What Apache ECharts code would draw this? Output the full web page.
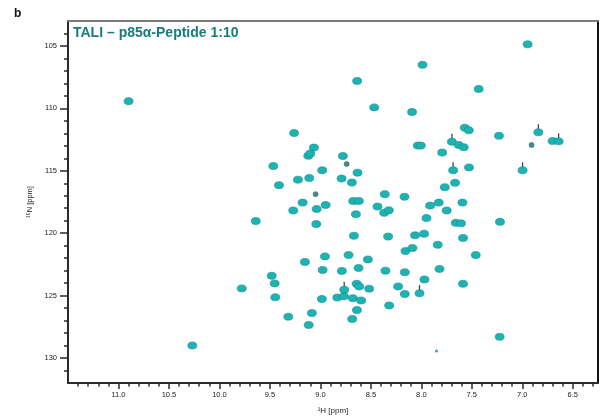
<!DOCTYPE html>
<html>
<head>
<meta charset="utf-8">
<script src="https://cdn.jsdelivr.net/npm/echarts@6/dist/echarts.min.js"></script>
<style>html,body{margin:0;padding:0;background:#fff;}#c{width:601px;height:420px;}</style>
</head>
<body>
<div id="c"></div>
<script>
// 1H chemical shift (ppm) of each cross peak
var peakH = [10.90, 9.26, 9.064, 9.12, 9.10, 9.466, 8.982, 9.222, 9.110, 9.410,
  9.176, 8.948, 9.269, 9.037, 9.640, 9.041, 8.955, 9.153, 8.978, 9.482,
  9.453, 9.779, 9.447, 8.985, 9.084, 9.318, 9.116, 10.268, 6.947, 7.988,
  8.636, 7.432, 8.467, 8.092, 7.57, 7.53, 7.697, 7.630, 7.580, 7.231,
  6.841, 6.70, 6.64, 8.035, 8.005, 7.794, 8.777, 8.632, 7.685, 7.528,
  6.997, 8.790, 8.688, 7.666, 7.768, 8.362, 8.167, 8.675, 8.619, 8.434,
  8.368, 8.322, 8.648, 7.913, 7.828, 7.593, 7.749, 7.949, 7.659, 7.607,
  7.221, 8.668, 8.329, 8.062, 7.973, 7.587, 7.838, 8.157, 8.088, 7.461,
  8.721, 8.530, 8.787, 8.622, 8.355, 8.164, 7.820, 7.969, 7.587, 8.641,
  8.616, 8.764, 8.517, 8.230, 8.164, 8.018, 8.833, 8.767, 8.678, 8.596,
  8.319, 8.638, 8.685, 7.224];
// 15N chemical shift (ppm) of each cross peak
var peakN = [109.42, 111.98, 113.14, 113.80, 113.62, 114.62, 114.96, 115.71, 115.58, 116.15,
  117.55, 117.74, 118.18, 118.06, 119.03, 119.27, 121.86, 122.30, 122.94, 123.41,
  124.02, 124.42, 125.13, 125.27, 126.40, 126.69, 127.35, 128.99, 104.87, 106.51,
  107.80, 108.44, 109.92, 110.29, 111.55, 111.75, 112.67, 112.93, 113.11, 112.19,
  111.92, 112.61, 112.64, 112.98, 112.98, 113.54, 113.82, 115.15, 114.96, 114.73,
  114.96, 115.62, 115.94, 115.96, 116.31, 116.87, 117.08, 117.42, 117.42, 117.87,
  118.37, 118.16, 118.48, 117.79, 117.55, 117.55, 118.18, 118.79, 119.17, 119.21,
  119.09, 120.20, 120.27, 120.17, 120.04, 120.38, 120.93, 121.43, 121.19, 121.75,
  121.75, 122.10, 123.02, 122.78, 123.00, 123.13, 122.86, 123.70, 124.05, 124.05,
  124.26, 124.52, 124.44, 124.26, 124.87, 124.81, 125.16, 125.05, 125.21, 125.39,
  125.79, 126.16, 126.87, 128.30];
// weak / small peaks
var weakH = [9.047, 6.908, 8.740];
var weakN = [116.87, 112.93, 114.46];
var tinyH = [7.850];
var tinyN = [129.43];
// peaks carrying a dark vertical contour stem
var stemH = [7.697, 7.685, 6.997, 6.841, 6.64, 8.764, 8.018];
var stemN = [112.67, 114.96, 114.96, 111.92, 112.64, 124.52, 124.81];

var xMajorTicks = [11.0, 10.5, 10.0, 9.5, 9.0, 8.5, 8.0, 7.5, 7.0, 6.5];
var yMajorTicks = [105, 110, 115, 120, 125, 130];
var xRange = [6.25, 11.5];
var yRange = [103, 132];

var xMinorTicks = [];
for (var i = 63; i <= 114; i++) xMinorTicks.push(i / 10);
var yMinorTicks = [];
for (var j = 104; j <= 131; j++) yMinorTicks.push(j);

function pairs(a, b) { return a.map(function (v, k) { return [v, b[k]]; }); }

var font = 'Liberation Sans, Arial, DejaVu Sans, sans-serif';
var axisCol = '#2b2b2b';

var chart = echarts.init(document.getElementById('c'), null, {renderer: 'canvas'});
chart.setOption({
  animation: false,
  backgroundColor: '#fff',
  title: [
    {text: 'b', left: 9, top: 3, textStyle: {fontFamily: font, fontSize: 12, fontWeight: 'bold', color: '#111'}},
    {text: 'TALI – p85α-Peptide 1:10', left: 68, top: 21, textStyle: {fontFamily: font, fontSize: 14, fontWeight: 'bold', color: '#177c7c'}}
  ],
  grid: {left: 68, top: 21, right: 3, bottom: 34, containLabel: false},
  xAxis: [
    {type: 'value', position: 'bottom', min: xRange[0], max: xRange[1], inverse: true,
     name: '¹H [ppm]', nameLocation: 'middle', nameGap: 24,
     nameTextStyle: {fontFamily: font, fontSize: 8, color: '#222'},
     axisLine: {show: true, lineStyle: {color: axisCol, width: 2}},
     axisTick: {show: true, length: 6, lineStyle: {color: axisCol, width: 1.5}, customValues: xMajorTicks},
     axisLabel: {show: true, fontFamily: font, fontSize: 7.5, color: '#222', margin: 8, customValues: xMajorTicks,
       formatter: function (v) { return v.toFixed(1); }},
     splitLine: {show: false}},
    {type: 'value', position: 'bottom', min: xRange[0], max: xRange[1], inverse: true,
     axisLine: {show: false},
     axisTick: {show: true, length: 3.5, lineStyle: {color: axisCol, width: 1.5}, customValues: xMinorTicks},
     axisLabel: {show: false}, splitLine: {show: false}},
    {type: 'value', position: 'top', min: xRange[0], max: xRange[1], inverse: true,
     axisLine: {show: true, lineStyle: {color: '#7a7a7a', width: 2}},
     axisTick: {show: false}, axisLabel: {show: false}, splitLine: {show: false}}
  ],
  yAxis: [
    {type: 'value', position: 'left', min: yRange[0], max: yRange[1], inverse: true,
     name: '¹⁵N [ppm]', nameLocation: 'middle', nameGap: 29, nameRotate: 90,
     nameTextStyle: {fontFamily: font, fontSize: 7.5, color: '#222'},
     axisLine: {show: true, lineStyle: {color: axisCol, width: 2}},
     axisTick: {show: true, length: 8, lineStyle: {color: axisCol, width: 1.5}, customValues: yMajorTicks},
     axisLabel: {show: true, fontFamily: font, fontSize: 7.5, color: '#222', margin: 11, customValues: yMajorTicks},
     splitLine: {show: false}},
    {type: 'value', position: 'left', min: yRange[0], max: yRange[1], inverse: true,
     axisLine: {show: false},
     axisTick: {show: true, length: 4, lineStyle: {color: axisCol, width: 1.5}, customValues: yMinorTicks},
     axisLabel: {show: false}, splitLine: {show: false}},
    {type: 'value', position: 'right', min: yRange[0], max: yRange[1], inverse: true,
     axisLine: {show: true, lineStyle: {color: '#111', width: 2}},
     axisTick: {show: false}, axisLabel: {show: false}, splitLine: {show: false}}
  ],
  series: [
    {type: 'scatter', xAxisIndex: 0, yAxisIndex: 0, data: pairs(stemH, stemN),
     symbol: 'rect', symbolSize: [1.3, 6], symbolOffset: [0, -5],
     itemStyle: {color: '#2f4f4f', opacity: 1}, z: 1},
    {type: 'scatter', xAxisIndex: 0, yAxisIndex: 0, data: pairs(peakH, peakN),
     symbol: 'circle', symbolSize: [9, 7],
     itemStyle: {color: '#1db3b3', borderColor: '#0f8c8c', borderWidth: 0.6, opacity: 1}, z: 2},
    {type: 'scatter', xAxisIndex: 0, yAxisIndex: 0, data: pairs(weakH, weakN),
     symbol: 'circle', symbolSize: 5,
     itemStyle: {color: '#3c8f8f', borderColor: '#4a5a5a', borderWidth: 0.6, opacity: 1}, z: 2},
    {type: 'scatter', xAxisIndex: 0, yAxisIndex: 0, data: pairs(tinyH, tinyN),
     symbol: 'circle', symbolSize: 3,
     itemStyle: {color: '#35b0b0', opacity: 1}, z: 2}
  ]
});
</script>
</body>
</html>
